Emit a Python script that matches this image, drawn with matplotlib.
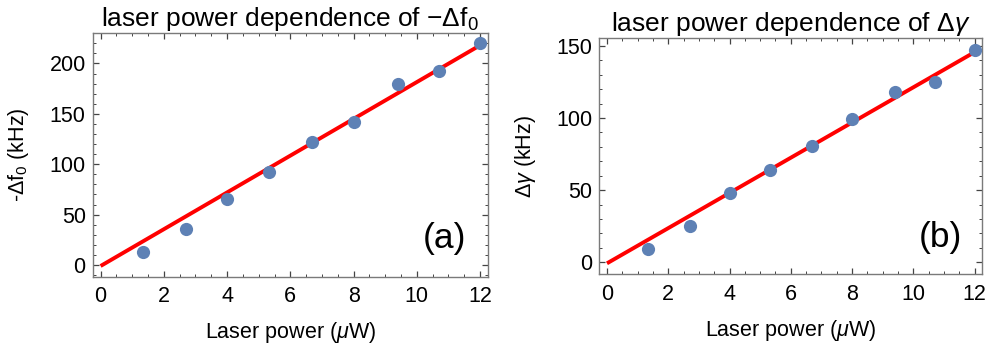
import numpy as np
import matplotlib
matplotlib.use("Agg")
import matplotlib.pyplot as plt
from matplotlib.ticker import MultipleLocator

plt.rcParams['font.family'] = ['Liberation Sans', 'DejaVu Sans']
plt.rcParams['mathtext.fontset'] = 'custom'
plt.rcParams['mathtext.rm'] = 'Liberation Sans'
plt.rcParams['mathtext.it'] = 'Liberation Sans:italic'
plt.rcParams['mathtext.sf'] = 'Liberation Sans'

# Laser power (uW)
power = [1.33, 2.7, 4.0, 5.33, 6.7, 8.0, 9.4, 10.7, 12.0]
# Frequency shift -Δf0 (kHz)
shift_f0 = [13.2, 35.4, 65.2, 92.0, 122.3, 142.2, 179.3, 192.8, 220.5]
# Linewidth change Δγ (kHz)
shift_gamma = [9.0, 25.4, 47.8, 63.8, 80.9, 99.2, 118.3, 124.8, 147.2]

# Linear fits: (slope, intercept)
fit_f0 = (18.25, -1.0)
fit_gamma = (12.2, -0.7)
fit_range = [0.0, 12.0]

point_color = '#5E81B5'
frame_color = '#7a7a7a'

fig = plt.figure(figsize=(9.87, 3.49), dpi=100)
ax_a = fig.add_axes([0.0939, 0.2072, 0.4005, 0.6974])
ax_b = fig.add_axes([0.6072, 0.2140, 0.3880, 0.6780])


def style(ax, ymajor, xlim, ylim):
    ax.set_xlim(*xlim)
    ax.set_ylim(*ylim)
    ax.xaxis.set_major_locator(MultipleLocator(2))
    ax.xaxis.set_minor_locator(MultipleLocator(0.5))
    ax.yaxis.set_major_locator(MultipleLocator(ymajor))
    ax.yaxis.set_minor_locator(MultipleLocator(10))
    for s in ax.spines.values():
        s.set_color(frame_color)
        s.set_linewidth(1.0)
    ax.tick_params(which='both', direction='in', top=True, right=True,
                   color='#444444', labelsize=15.5, labelcolor='black')
    ax.tick_params(which='major', length=4, width=0.9)
    ax.tick_params(which='minor', length=2.2, width=0.7)
    ax.tick_params(axis='x', which='major', pad=7)
    ax.tick_params(axis='y', which='major', pad=5)


def panel(ax, y, fit, ymajor, ylim, title, ylabel, tag):
    style(ax, ymajor, (-0.25, 12.25), ylim)
    xs = np.array(fit_range)
    ax.plot(xs, fit[0] * xs + fit[1], color='#ff0000', lw=2.8,
            solid_capstyle='butt', zorder=2)
    ax.plot(power, y, 'o', color=point_color, ms=9.5, mec='none', zorder=3)
    ax.set_title(title, fontsize=19, pad=3)
    ax.set_ylabel(ylabel, fontsize=15.5, labelpad=13)
    ax.set_xlabel(r'Laser power ($\mu$W)', fontsize=15.5, labelpad=9)
    ax.text(0.89, 0.155, tag, transform=ax.transAxes, fontsize=25.5,
            ha='center', va='center')


panel(ax_a, shift_f0, fit_f0, 50, (-11.6, 229.9),
      r'laser power dependence of $-\Delta\mathrm{f}_0$',
      r'-$\Delta\mathrm{f}_0$ (kHz)', '(a)')
panel(ax_b, shift_gamma, fit_gamma, 50, (-8.3, 155.7),
      r'laser power dependence of $\Delta\gamma$',
      r'$\Delta\gamma$ (kHz)', '(b)')

fig.savefig('out.png', dpi=100)
